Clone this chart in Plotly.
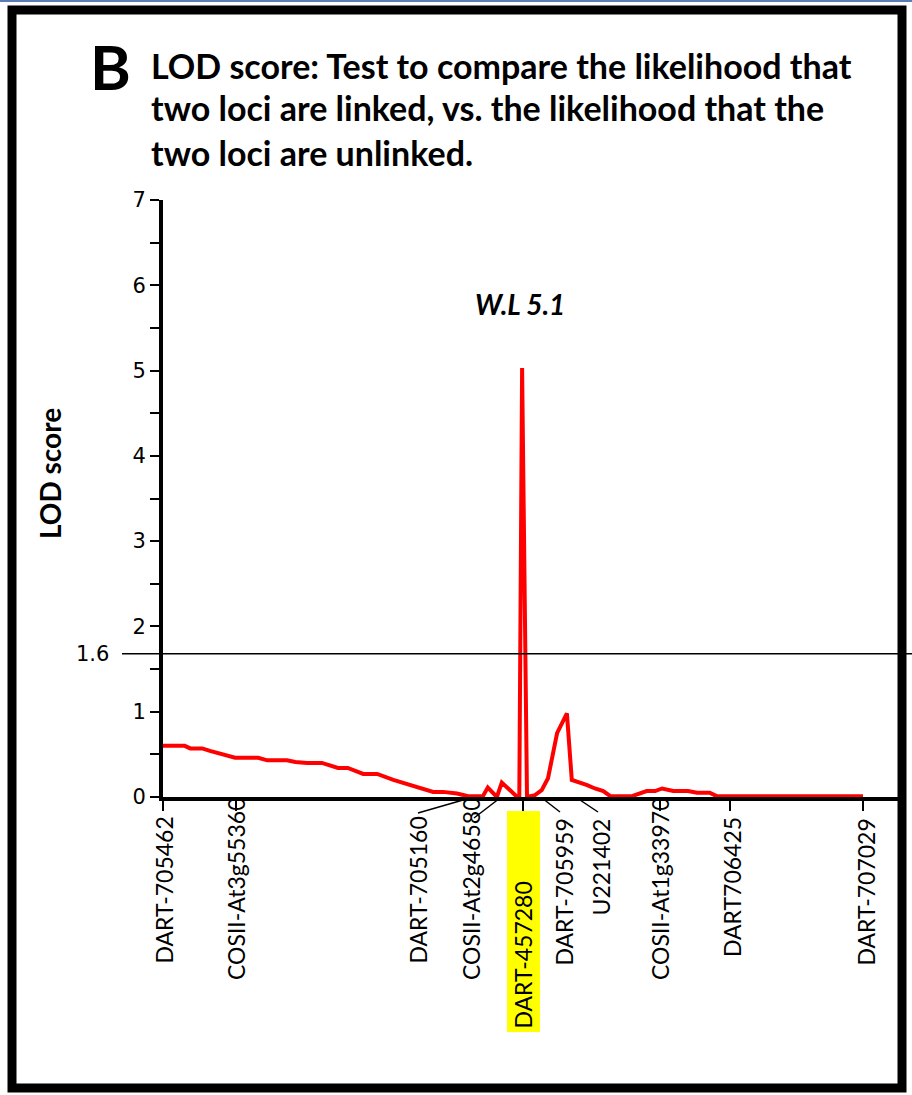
import plotly.graph_objects as go

# ---------------- data ----------------
# LOD profile: map position (cM, arbitrary scale) and LOD score
pos_cm = [0, 3.1, 3.9, 5.6, 6.7, 10.3, 13.6, 14.9, 17.7, 18.9, 20.6, 22.7, 25.0, 26.4,
          28.6, 30.6, 32.9, 38.6, 40.0, 42.0, 43.6, 45.7, 46.4, 47.7, 48.4, 49.6, 50.6,
          50.9, 51.3, 52.0, 53.1, 54.1, 55.0, 56.3, 57.6, 57.7, 58.4, 59.6, 60.6, 61.7,
          62.9, 63.9, 67.0, 69.1, 70.3, 71.3, 72.9, 75.0, 76.3, 78.1, 79.1, 100.0]
lod = [0.60, 0.60, 0.57, 0.57, 0.54, 0.46, 0.46, 0.43, 0.43, 0.41, 0.40, 0.40, 0.34, 0.34,
       0.27, 0.27, 0.20, 0.06, 0.06, 0.04, 0.01, 0.01, 0.11, 0.00, 0.17, 0.08, 0.00,
       0.00, 5.03, 0.00, 0.02, 0.08, 0.22, 0.75, 0.98, 0.98, 0.20, 0.17, 0.14, 0.10,
       0.07, 0.01, 0.01, 0.07, 0.07, 0.10, 0.07, 0.07, 0.05, 0.05, 0.01, 0.01]

marker_names = ["DART-705462", "COSII-At3g55360", "DART-705160", "COSII-At2g46580",
                "DART-457280", "DART-705959", "U221402", "COSII-At1g33970",
                "DART706425", "DART-707029"]
marker_pos = [0, 10.4, 43.9, 48.1, 51.4, 54.1, 59.1, 71.0, 81.0, 100.0]

y_ticks = [0, 1, 2, 3, 4, 5, 6, 7]
threshold_label = "1.6"
threshold_line = 1.68
qtl_label = "W.L 5.1"
qtl_label_pos = (51.0, 5.78)
highlight_marker = "DART-457280"

# ---------------- layout helpers ----------------
W, H = 912, 1095
L, R, T, B = 163, 14, 200, 298
PW, PH = W - L - R, H - T - B
XMAX = 105


def px_x(p):
    return (p - L) / PW


def px_y(p):
    return (H - B - p) / PH


def cm_of_px(p):
    return (p - L) / PW * XMAX


LABEL_FONT = dict(family="Lato", size=23, color="black")

fig = go.Figure()
fig.add_trace(go.Scatter(x=pos_cm, y=lod, mode="lines",
                         line=dict(color="#ff0000", width=4), hoverinfo="skip",
                         showlegend=False))

# label placement (pixels): label centre x, top y (or bottom y for highlighted), leader line
label_cfg = {
    "DART-705462": dict(lx=163, top=815),
    "COSII-At3g55360": dict(lx=236, top=796),
    "DART-705160": dict(lx=417, top=815, lead=((470, 798), (418, 813))),
    "COSII-At2g46580": dict(lx=471, top=796, lead=((500, 798), (474, 818))),
    "DART-457280": dict(lx=522, bottom=1031),
    "DART-705959": dict(lx=563, top=817, lead=((542, 798), (560, 812))),
    "U221402": dict(lx=600, top=817, lead=((577, 798), (598, 812))),
    "COSII-At1g33970": dict(lx=660, top=796),
    "DART706425": dict(lx=732, top=815),
    "DART-707029": dict(lx=865, top=817),
}

shapes = []
annotations = []
tickvals = []
for name, p in zip(marker_names, marker_pos):
    cfg = label_cfg[name]
    if "lead" not in cfg:
        tickvals.append(p)
    if name == highlight_marker:
        shapes.append(dict(type="rect", xref="x", yref="paper",
                           x0=cm_of_px(507), x1=cm_of_px(540),
                           y0=px_y(1032), y1=px_y(811),
                           fillcolor="#ffff00", line=dict(width=0), layer="below"))
        annotations.append(dict(text=name, textangle=-90, xref="x", yref="paper",
                                x=cm_of_px(cfg["lx"]), y=px_y(cfg["bottom"]),
                                xanchor="center", yanchor="bottom", showarrow=False,
                                font=LABEL_FONT))
    else:
        annotations.append(dict(text=name, textangle=-90, xref="x", yref="paper",
                                x=cm_of_px(cfg["lx"]), y=px_y(cfg["top"]),
                                xanchor="center", yanchor="top", showarrow=False,
                                font=LABEL_FONT))
    if "lead" in cfg:
        (ax0, ay0), (ax1, ay1) = cfg["lead"]
        shapes.append(dict(type="line", xref="x", yref="paper",
                           x0=cm_of_px(ax0), y0=px_y(ay0), x1=cm_of_px(ax1), y1=px_y(ay1),
                           line=dict(color="black", width=1.5)))

# threshold line
shapes.append(dict(type="line", xref="paper", yref="y", x0=px_x(122), x1=px_x(912),
                   y0=threshold_line, y1=threshold_line, line=dict(color="black", width=1.5)))
annotations.append(dict(text=threshold_label, xref="paper", yref="y", x=px_x(111),
                        y=threshold_line, xanchor="right", yanchor="middle", showarrow=False,
                        font=dict(family="DejaVu Sans", size=21, color="black")))

# thin blue edge at the very top and outer frame
shapes.append(dict(type="line", xref="paper", yref="paper", x0=px_x(0), x1=px_x(912),
                   y0=px_y(1), y1=px_y(1), line=dict(color="#5a7db4", width=2)))
shapes.append(dict(type="rect", xref="paper", yref="paper",
                   x0=px_x(12), x1=px_x(902), y0=px_y(1088), y1=px_y(10),
                   line=dict(color="black", width=9), fillcolor="rgba(0,0,0,0)"))

# titles
annotations.append(dict(text="<b>B</b>", xref="paper", yref="paper", x=px_x(110), y=px_y(66),
                        xanchor="center", yanchor="middle", showarrow=False,
                        font=dict(family="Lato", size=62, color="black")))
title_lines = ["LOD score: Test to compare the likelihood that",
               "two loci are linked, vs. the likelihood that the",
               "two loci are unlinked."]
for txt, yy in zip(title_lines, [65, 108, 152]):
    annotations.append(dict(text="<b>" + txt + "</b>", xref="paper", yref="paper",
                            x=px_x(149), y=px_y(yy), xanchor="left", yanchor="middle",
                            showarrow=False,
                            font=dict(family="Lato", size=34, color="black")))
annotations.append(dict(text="<b><i>" + qtl_label + "</i></b>", xref="x", yref="y",
                        x=qtl_label_pos[0], y=qtl_label_pos[1], showarrow=False,
                        font=dict(family="Lato", size=28, color="black")))
annotations.append(dict(text="<b>LOD score</b>", textangle=-90, xref="paper", yref="paper",
                        x=px_x(50), y=px_y(474), xanchor="center", yanchor="middle",
                        showarrow=False, font=dict(family="Lato", size=28, color="black")))

fig.update_layout(
    width=W, height=H, margin=dict(l=L, r=R, t=T, b=B),
    paper_bgcolor="white", plot_bgcolor="white",
    shapes=shapes, annotations=annotations, showlegend=False,
    xaxis=dict(range=[0, XMAX], showgrid=False, zeroline=False, showline=True,
               linecolor="black", linewidth=4, ticks="outside", ticklen=10,
               tickwidth=1.5, tickcolor="black", tickvals=tickvals,
               showticklabels=False, layer="below traces", fixedrange=True),
    yaxis=dict(range=[0, 7], showgrid=False, zeroline=False, showline=True,
               linecolor="black", linewidth=4, ticks="outside", ticklen=9,
               tickwidth=1.5, tickcolor="black", tickvals=y_ticks,
               tickfont=dict(family="DejaVu Sans", size=21, color="black"),
               minor=dict(ticks="outside", dtick=0.5, ticklen=9, tickwidth=1.5,
                          tickcolor="black"),
               layer="below traces", fixedrange=True),
)

fig.write_html("out.html")
